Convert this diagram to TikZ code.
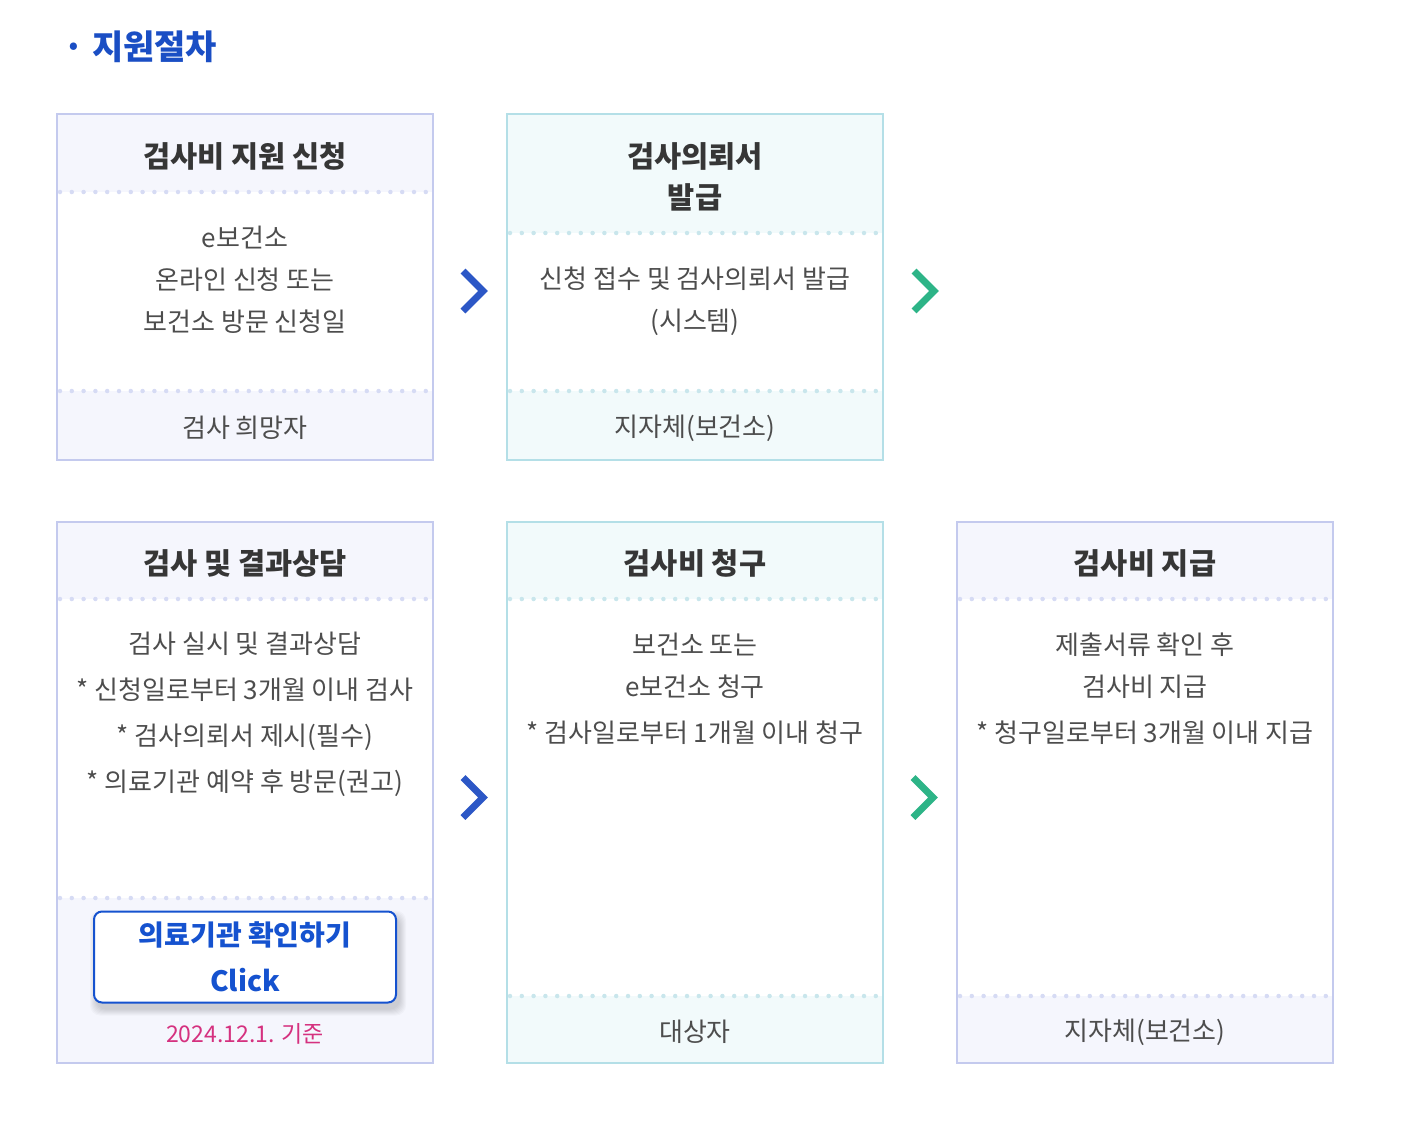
\documentclass[tikz,border=0pt]{standalone}
\usepackage{fontspec}
\setmainfont{Noto Sans CJK KR}
\usetikzlibrary{calc}
\usetikzlibrary{backgrounds}

\definecolor{lavline}{HTML}{C4CAEE}
\definecolor{lavfill}{HTML}{F5F6FD}
\definecolor{lavdot}{HTML}{D6DBF4}
\definecolor{tealline}{HTML}{B4DFE7}
\definecolor{tealfill}{HTML}{F2FAFB}
\definecolor{tealdot}{HTML}{C9E6EC}
\definecolor{titleblue}{HTML}{1A4EC4}
\definecolor{arrowblue}{HTML}{2C57C6}
\definecolor{arrowgreen}{HTML}{2DB487}
\definecolor{headgray}{HTML}{363636}
\definecolor{bodygray}{HTML}{4D4D4D}
\definecolor{datepink}{HTML}{D5317F}
\definecolor{btnblue}{HTML}{1552CF}

\begin{document}
\begin{tikzpicture}[x=1pt, y=-1pt,
	card/.style={rectangle, line width=2pt, minimum width=376pt, inner sep=0pt},
	lavcard/.style={card, draw=lavline, minimum height=346pt},
	tealcard/.style={card, draw=tealline, minimum height=346pt},
	lavdots/.style={draw=lavdot, line width=4.5pt, line cap=round, dash pattern=on 0pt off 11.8pt},
	tealdots/.style={draw=tealdot, line width=4.5pt, line cap=round, dash pattern=on 0pt off 11.8pt},
	head/.style={text=headgray, align=center, font=\bfseries\fontsize{29.5}{41}\selectfont},
	body/.style={text=bodygray, align=center, font=\fontsize{26}{42}\selectfont},
	chevron/.style={line width=7pt, miter limit=4}]
	\useasboundingbox (0,0) rectangle (1426,1120);
	\node [anchor=west, text=titleblue, font=\bfseries\fontsize{34}{38}\selectfont] (title) at (60,47) {· 지원절차};

	% first row
	\node [lavcard] (b1) at (245,287) {};
	\node [tealcard] (b2) at (695,287) {};
	% second row
	\node [lavcard, minimum height=541pt] (b4) at (245,792.5) {};
	\node [tealcard, minimum height=541pt] (b5) at (695,792.5) {};
	\node [lavcard, minimum height=541pt] (b6) at (1145,792.5) {};

	\begin{scope}[on background layer]
		\fill [lavfill] (b1.north west) rectangle ($(b1.north east)+(0,79)$);
		\fill [lavfill] ($(b1.south west)+(0,-70)$) rectangle (b1.south east);
		\fill [tealfill] (b2.north west) rectangle ($(b2.north east)+(0,120)$);
		\fill [tealfill] ($(b2.south west)+(0,-70)$) rectangle (b2.south east);
		\fill [lavfill] (b4.north west) rectangle ($(b4.north east)+(0,78)$);
		\fill [lavfill] ($(b4.south west)+(0,-166)$) rectangle (b4.south east);
		\fill [tealfill] (b5.north west) rectangle ($(b5.north east)+(0,78)$);
		\fill [tealfill] ($(b5.south west)+(0,-68)$) rectangle (b5.south east);
		\fill [lavfill] (b6.north west) rectangle ($(b6.north east)+(0,78)$);
		\fill [lavfill] ($(b6.south west)+(0,-68)$) rectangle (b6.south east);
	\end{scope}

	\draw [lavdots] ($(b1.north west)+(4,79)$) -- ($(b1.north east)+(-2,79)$);
	\draw [lavdots] ($(b1.south west)+(4,-70)$) -- ($(b1.south east)+(-2,-70)$);
	\draw [tealdots] ($(b2.north west)+(4,120)$) -- ($(b2.north east)+(-2,120)$);
	\draw [tealdots] ($(b2.south west)+(4,-70)$) -- ($(b2.south east)+(-2,-70)$);
	\draw [lavdots] ($(b4.north west)+(4,78)$) -- ($(b4.north east)+(-2,78)$);
	\draw [lavdots] ($(b4.south west)+(4,-166)$) -- ($(b4.south east)+(-2,-166)$);
	\draw [tealdots] ($(b5.north west)+(4,78)$) -- ($(b5.north east)+(-2,78)$);
	\draw [tealdots] ($(b5.south west)+(4,-68)$) -- ($(b5.south east)+(-2,-68)$);
	\draw [lavdots] ($(b6.north west)+(4,78)$) -- ($(b6.north east)+(-2,78)$);
	\draw [lavdots] ($(b6.south west)+(4,-68)$) -- ($(b6.south east)+(-2,-68)$);

	% texts
	\node [head] (h1) at ($(b1.north)+(0,43)$) {검사비 지원 신청};
	\node [body] (t1) at ($(b1.north)+(0,167)$) {e보건소\\온라인 신청 또는\\보건소 방문 신청일};
	\node [body] (f1) at ($(b1.south)+(0,-33)$) {검사 희망자};
	\node [head] (h2) at ($(b2.north)+(0,63.5)$) {검사의뢰서\\발급};
	\node [body] (t2) at ($(b2.north)+(0,188)$) {신청 접수 및 검사의뢰서 발급\\(시스템)};
	\node [body] (f2) at ($(b2.south)+(0,-33)$) {지자체(보건소)};
	\node [head] (h4) at ($(b4.north)+(0,42)$) {검사 및 결과상담};
	\node [body, font=\fontsize{26}{46}\selectfont] (t4) at ($(b4.north)+(0,193)$) {검사 실시 및 결과상담\\* 신청일로부터 3개월 이내 검사\\* 검사의뢰서 제시(필수)\\* 의료기관 예약 후 방문(권고)};
	\node [head] (h5) at ($(b5.north)+(0,42)$) {검사비 청구};
	\node [body] (t5) at ($(b5.north)+(0,168)$) {보건소 또는\\e보건소 청구\\[4pt]* 검사일로부터 1개월 이내 청구};
	\node [body] (f5) at ($(b5.south)+(0,-32)$) {대상자};
	\node [head] (h6) at ($(b6.north)+(0,42)$) {검사비 지급};
	\node [body] (t6) at ($(b6.north)+(0,168)$) {제출서류 확인 후\\검사비 지급\\[4pt]* 청구일로부터 3개월 이내 지급};
	\node [body] (f6) at ($(b6.south)+(0,-32)$) {지자체(보건소)};

	% link button with a soft shadow
	\coordinate (btnc) at ($(b4.south)+(0,-107)$);
	\foreach \s in {1,...,7}
		\fill [black, opacity=0.022, rounded corners=10pt] ($(btnc)+(-151-\s+3,-45.5-\s+6)$) rectangle ($(btnc)+(151+\s+3,45.5+\s+6)$);
	\node [rectangle, rounded corners=8pt, draw=btnblue, line width=2pt, fill=white, minimum width=302pt, minimum height=91pt,
		text=btnblue, align=center, font=\bfseries\fontsize{28}{46}\selectfont] (btn) at (btnc) {의료기관 확인하기\\Click};
	\node [text=datepink, font=\fontsize{23}{28}\selectfont] (date) at ($(b4.south)+(0,-30)$) {2024.12.1. 기준};

	% chevrons
	\draw [chevron, arrowblue] ($(b1.east)!0.5!(b2.west)+(-7,-16)$) -- ++(20,20) -- ++(-20,20);
	\draw [chevron, arrowgreen] ($(b2.east)+(30,-16)$) -- ++(20,20) -- ++(-20,20);
	\draw [chevron, arrowblue] ($(b4.east)!0.5!(b5.west)+(-7,-15)$) -- ++(20,20) -- ++(-20,20);
	\draw [chevron, arrowgreen] ($(b5.east)!0.5!(b6.west)+(-7,-15)$) -- ++(20,20) -- ++(-20,20);
\end{tikzpicture}
\end{document}
